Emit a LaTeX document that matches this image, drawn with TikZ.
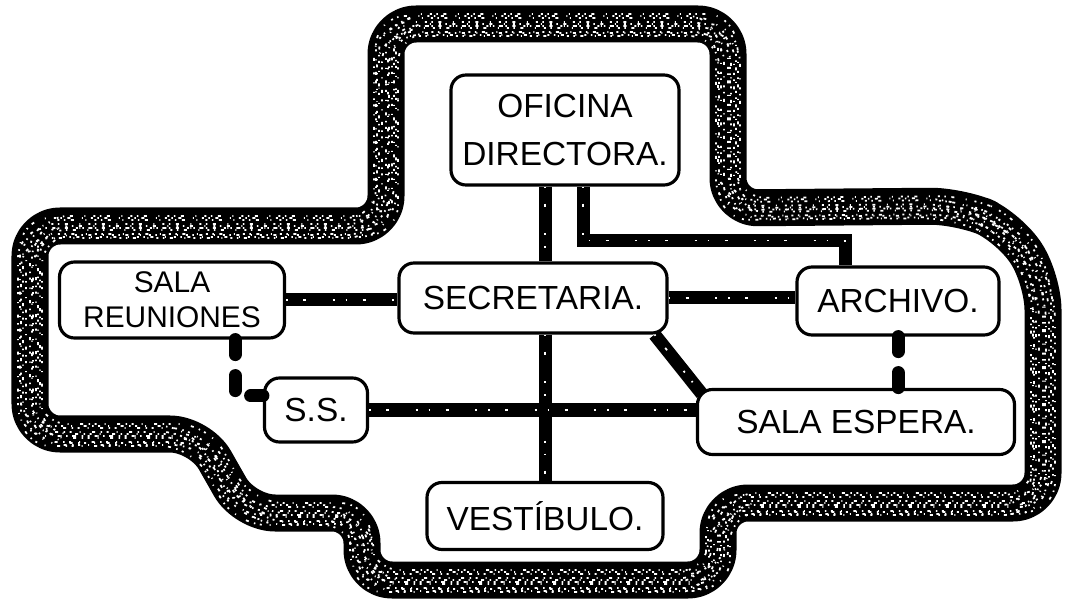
\documentclass[tikz,border=0pt]{standalone}
\usepackage{fontspec}
\setsansfont{Liberation Sans}
\usepackage{tikz}
\usetikzlibrary{calc}

\def\plantoutline{(386,120) -- (386,24) -- (728,24) -- (728,208) -- (960,206) -- (1010,228) -- (1043,280) -- (1043,503) -- (718,503) -- (718,580) -- (362,580) -- (362,513) -- (245,513) -- (200,434) -- (30,434) -- (30,226) -- (386,226) -- cycle}

\begin{document}
\begin{tikzpicture}[x=0.2mm,y=-0.2mm,
    room/.style={draw,fill=white,line width=1.8pt,rounded corners=3mm,align=center,
      font=\sffamily\fontsize{19}{27}\selectfont,inner sep=0pt},
    wall/.style={line width=7.4mm,line join=round,rounded corners=6mm},
    speck/.style={white,line width=0.35mm,rounded corners=6mm},
    link/.style={line width=2.6mm,postaction={draw=white,line width=0.35mm,dash pattern=on 0.3mm off 3.1mm on 0.6mm off 5.3mm on 0.4mm off 2.2mm}},
    weak/.style={line width=2.6mm,line cap=round,dash pattern=on 3mm off 4.2mm}]
      \useasboundingbox (0,0) rectangle (1065,603);

      \draw[wall] \plantoutline;
      \foreach\dx\dy\ph in {-10/-8/0, 0/-6/1.3, 6/4/2.1, -4/8/0.4, 10/0/1.7, -12/2/2.6, 3/11/0.8, 8/-10/3.1, -7/-2/1.1, 2/2/2.9, 12/9/0.2, -9/12/1.9}
      {\draw[speck,shift={(\dx,\dy)},dash pattern=on 0.3mm off 1.1mm on 0.6mm off 2.3mm on 0.2mm off 1.6mm on 0.4mm off 0.9mm,dash phase=\ph mm] \plantoutline;}

      \node[room,minimum width=45.6mm,minimum height=22mm] (ofi) at (565,130) {OFICINA\\DIRECTORA.};
      \node[room,minimum width=53.6mm,minimum height=14mm] (sec) at (533,298) {SECRETARIA.};
      \node[room,minimum width=45mm,minimum height=15.2mm,font=\sffamily\fontsize{17}{20}\selectfont] (reu) at (172,300) {SALA\\REUNIONES};
      \node[room,minimum width=40.4mm,minimum height=13.6mm] (arc) at (898,301) {ARCHIVO.};
      \node[room,minimum width=20.6mm,minimum height=12.8mm] (ss) at (316,410) {S.S.};
      \node[room,minimum width=63.4mm,minimum height=13mm] (esp) at (856,422) {SALA ESPERA.};
      \node[room,minimum width=47.2mm,minimum height=13.4mm] (ves) at (545,516) {VESTÍBULO.};

      \draw[link] (ofi.south -| ves) -- (sec.north -| ves);
      \draw[link] (sec.south -| ves) -- (ves.north);
      \draw[link] ($(ofi.south)+(18,0)$) |- ($(arc.north)+(-53,-25)$) -- ($(arc.north)+(-53,0)$);
      \draw[link] (reu.east) -- (reu.east -| sec.west);
      \draw[link] (sec.east) -- (sec.east -| arc.west);
      \draw[link] ($(sec.south east)+(-14,0)$) -- ($(esp.north west)+(6,6)$);
      \draw[link] (ss.east) -- (ss.east -| esp.west);
      \draw[weak] ($(reu.south)+(63,0)$) |- ($(ss.west)+(0,-14)$);
      \draw[weak] (arc.south) -- (arc.south |- esp.north);
    \end{tikzpicture}
\end{document}
